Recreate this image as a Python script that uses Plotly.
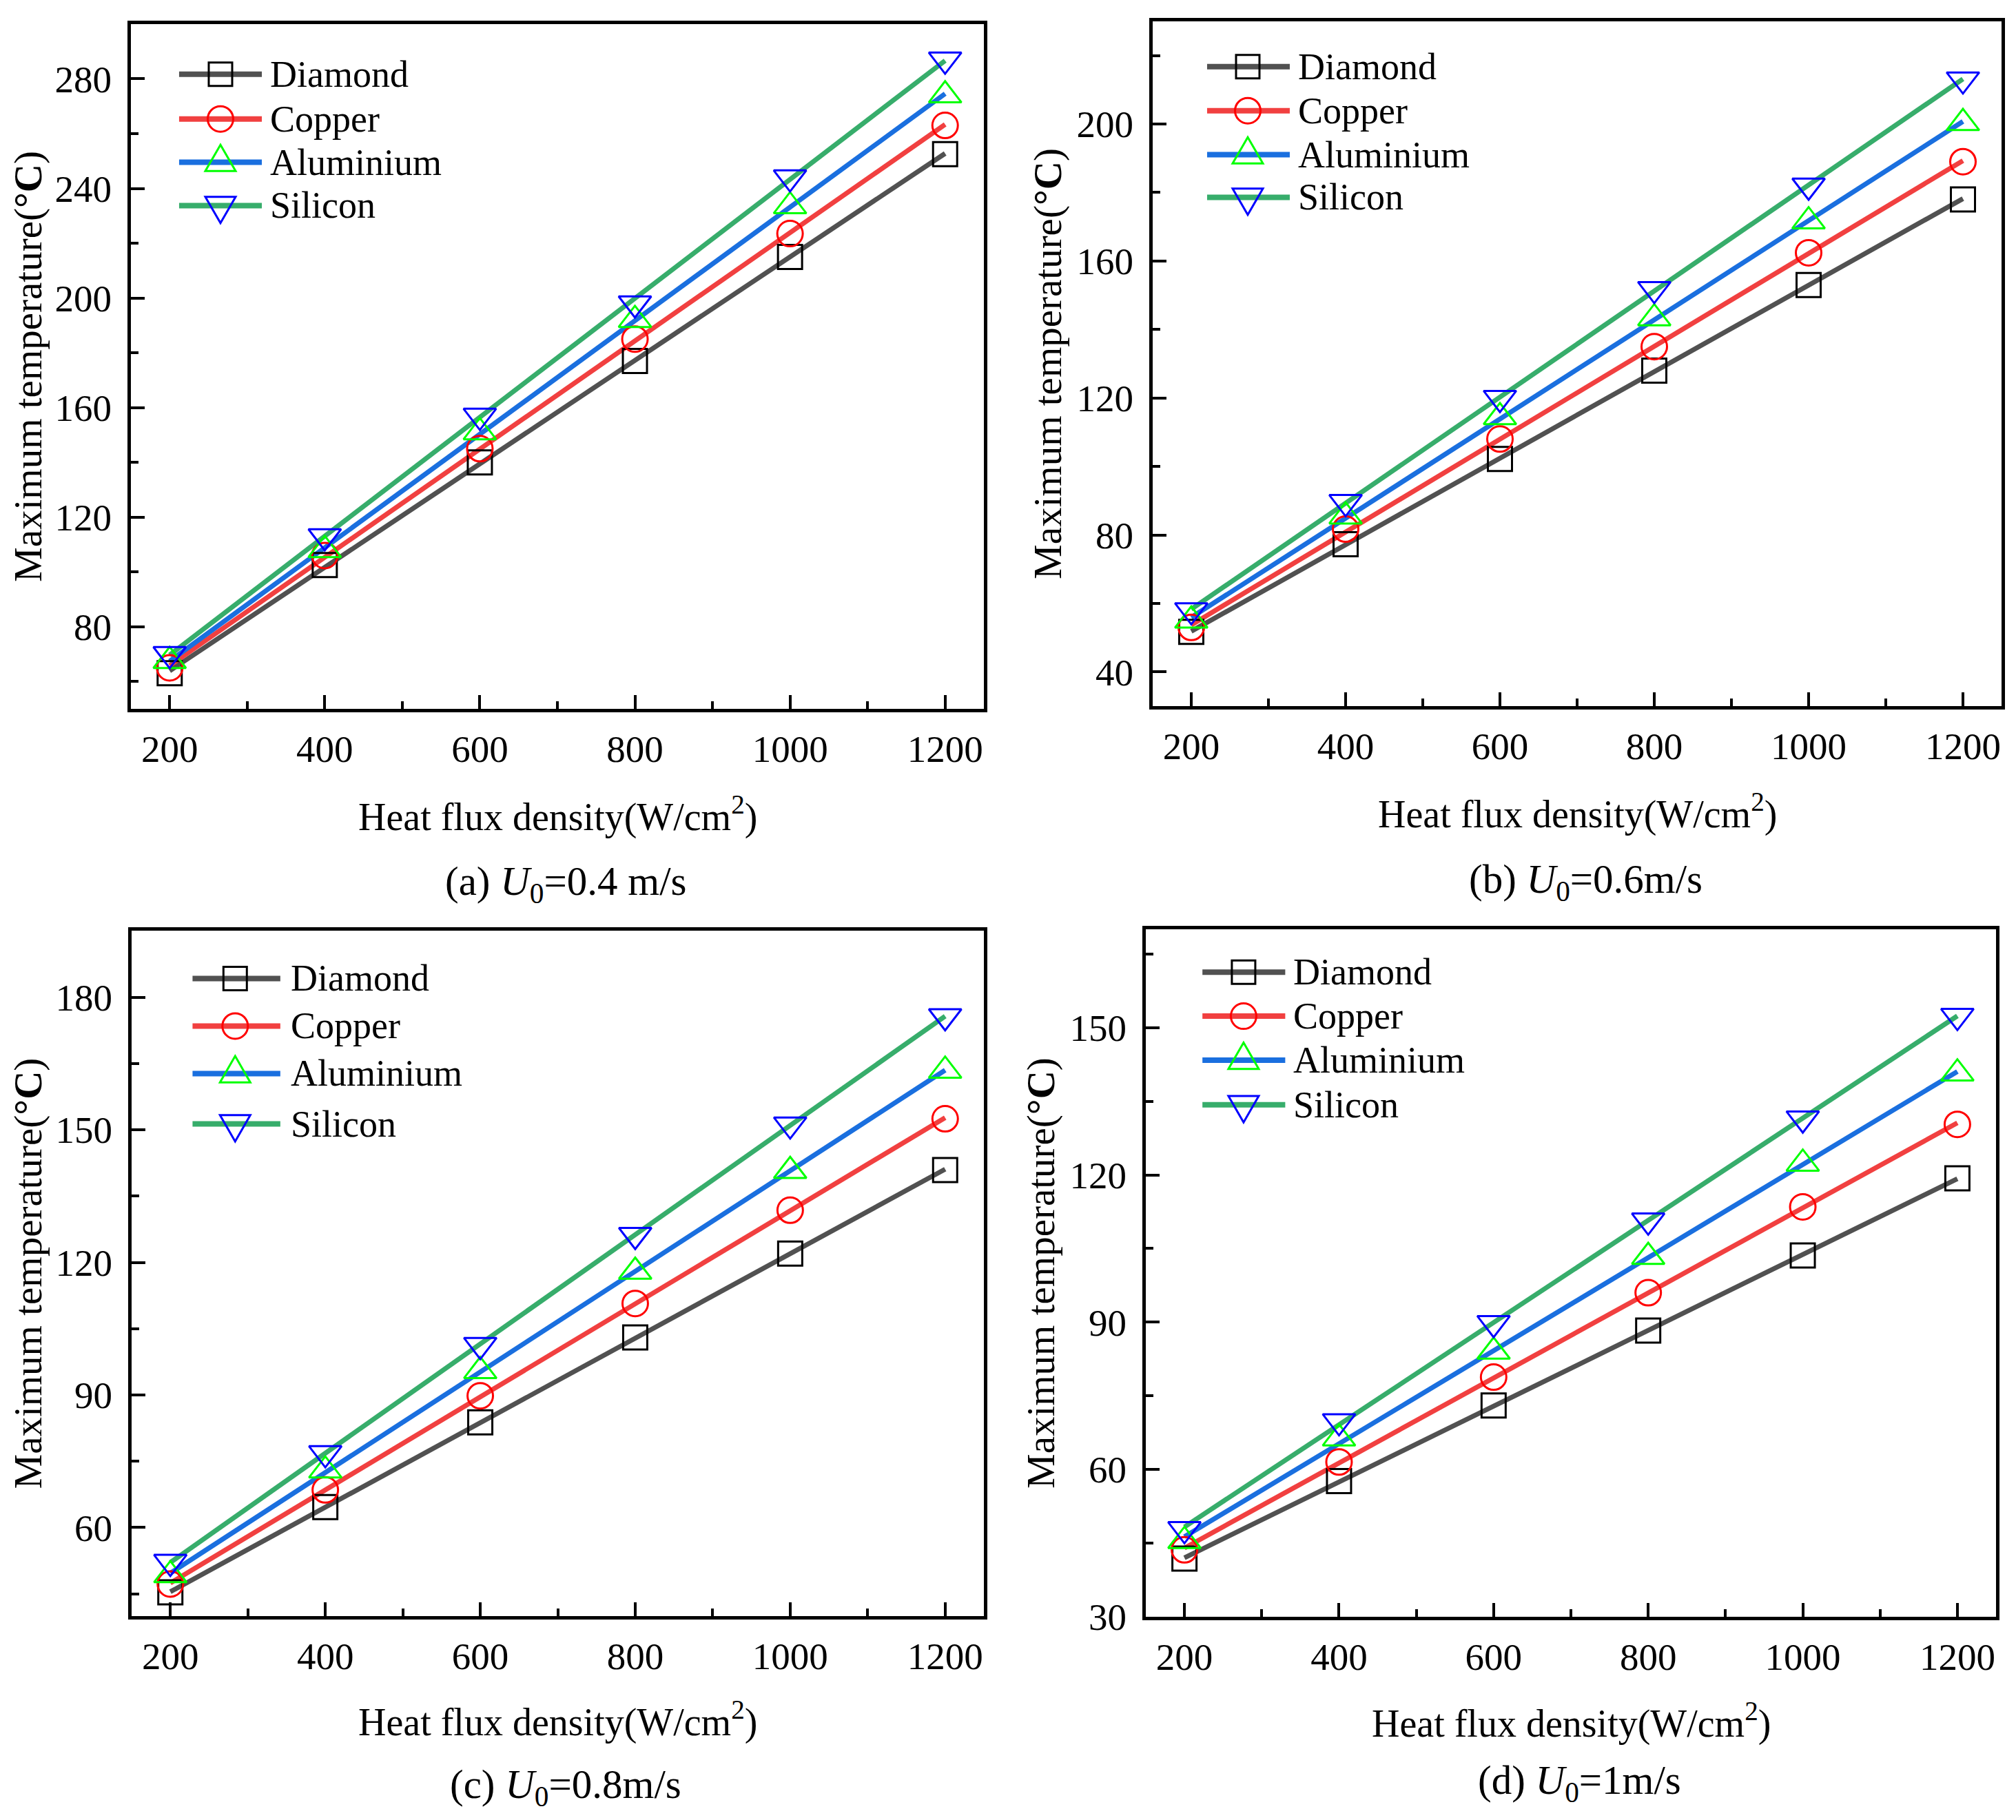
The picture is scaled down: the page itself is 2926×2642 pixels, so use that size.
import numpy as np
import plotly.graph_objects as go
from plotly.subplots import make_subplots

W, H = 2926, 2642
FONT = "Times New Roman, Liberation Serif, serif"

# data
heat_flux = [200, 400, 600, 800, 1000, 1200]
materials = ["Diamond", "Copper", "Aluminium", "Silicon"]

a_diamond = [63, 102.5, 140, 177, 215, 252.5]
a_copper = [65, 106, 145, 185, 223.5, 263]
a_aluminium = [67.5, 108, 151, 192, 233.5, 274]
a_silicon = [70, 113, 157, 198, 244, 287]

b_diamond = [51.7, 77.3, 102.2, 128, 153, 178]
b_copper = [53, 81.7, 108, 135, 162.4, 189]
b_aluminium = [55, 85.4, 114.4, 143.3, 171.6, 200.3]
b_silicon = [58, 89.6, 120, 151.8, 182, 213]

c_diamond = [45.3, 64.6, 83.8, 103, 122, 140.9]
c_copper = [47.2, 68.5, 89.8, 110.7, 131.8, 152.5]
c_aluminium = [49.2, 72.9, 95.4, 117.9, 140.7, 163.4]
c_silicon = [52.2, 76.8, 101.3, 126.2, 151.2, 175.7]

d_diamond = [41.8, 57.6, 73, 88.3, 103.6, 119.3]
d_copper = [43.6, 61.5, 78.8, 96, 113.5, 130.3]
d_aluminium = [45.4, 66.3, 84, 103.3, 122.3, 140.7]
d_silicon = [47.8, 69.8, 89.8, 110.7, 131.5, 152.4]

captions = [
    "(a) <i>U</i><sub>0</sub>=0.4 m/s",
    "(b) <i>U</i><sub>0</sub>=0.6m/s",
    "(c) <i>U</i><sub>0</sub>=0.8m/s",
    "(d) <i>U</i><sub>0</sub>=1m/s",
]

# styles
line_colors = ["#515151", "#F14040", "#1A6FDF", "#37AD6B"]
marker_colors = ["#000000", "#FF0000", "#00FF00", "#0000FF"]
symbols = ["square-open", "circle-open", "triangle-up-open", "triangle-down-open"]
marker_sizes = [35, 37, 41, 41]

# panel layout (pixel boxes: left, right, top, bottom)
panels = [
    dict(series=[a_diamond, a_copper, a_aluminium, a_silicon], yrange=[50, 300], dtick=40, minor=20,
         box=(190, 1428, 32, 1028), xt_y=1181, cap_y=1282, yt_x=41,
         leg_x=(0.0565, 0.1535, 0.105, 0.1616), leg_y=[0.9267, 0.8614, 0.7982, 0.7349]),
    dict(series=[b_diamond, b_copper, b_aluminium, b_silicon], yrange=[30, 230], dtick=40, minor=20,
         box=(1673, 2905, 28, 1024), xt_y=1177, cap_y=1279, yt_x=1521,
         leg_x=(0.0641, 0.1615, 0.112, 0.1696), leg_y=[0.9337, 0.8695, 0.8052, 0.7430]),
    dict(series=[c_diamond, c_copper, c_aluminium, c_silicon], yrange=[40, 195], dtick=30, minor=15,
         box=(191, 1428, 1351, 2347), xt_y=2498, cap_y=2596, yt_x=41,
         leg_x=(0.0715, 0.1745, 0.1215, 0.1848), leg_y=[0.9306, 0.8612, 0.7918, 0.7183]),
    dict(series=[d_diamond, d_copper, d_aluminium, d_silicon], yrange=[30, 170], dtick=30, minor=15,
         box=(1663, 2897, 1349, 2348), xt_y=2500, cap_y=2590, yt_x=1511,
         leg_x=(0.0666, 0.164, 0.115, 0.172), leg_y=[0.938, 0.874, 0.810, 0.745]),
]


def px(x):
    return x / W


def py(y):
    # small vertical correction, the page came out about 1% short
    return 1 - (y * 1.01 + 3) / H


# legend marker outlines in pixels (centred on the row)
def legend_marker(k, xa, ya, xref, yref, color):
    common = dict(xref=xref, yref=yref, xsizemode="pixel", ysizemode="pixel",
                  xanchor=xa, yanchor=ya, line=dict(color=color, width=3),
                  fillcolor="rgba(0,0,0,0)", layer="above")
    if k == 0:
        return dict(type="rect", x0=-17, x1=17, y0=-17, y1=17, **common)
    if k == 1:
        return dict(type="circle", x0=-18.5, x1=18.5, y0=-18.5, y1=18.5, **common)
    if k == 2:
        return dict(type="path", path="M-22,-12.7 L22,-12.7 L0,25.4 Z", **common)
    return dict(type="path", path="M-22,12.7 L22,12.7 L0,-25.4 Z", **common)


fig = make_subplots(rows=2, cols=2)

shapes = []
annotations = []
xfit = np.array([heat_flux[0], heat_flux[-1]])

for p, panel in enumerate(panels):
    row, col = p // 2 + 1, p % 2 + 1
    xr = "x" if p == 0 else f"x{p + 1}"
    yr = "y" if p == 0 else f"y{p + 1}"

    for k, vals in enumerate(panel["series"]):
        # linear fit line, as in the original figure
        coef = np.polyfit(heat_flux, vals, 1)
        fig.add_trace(go.Scatter(
            x=xfit, y=np.polyval(coef, xfit), mode="lines",
            line=dict(color=line_colors[k], width=7),
            showlegend=False, hoverinfo="skip"
        ), row=row, col=col)
    for k, vals in enumerate(panel["series"]):
        fig.add_trace(go.Scatter(
            x=heat_flux, y=vals, mode="markers", name=materials[k],
            marker=dict(symbol=symbols[k], size=marker_sizes[k], color=marker_colors[k],
                        line=dict(width=3, color=marker_colors[k])),
            showlegend=False
        ), row=row, col=col)

    l, r, t, b = panel["box"]
    fig.update_xaxes(domain=[px(l), px(r)], row=row, col=col)
    fig.update_yaxes(domain=[py(b), py(t)], row=row, col=col)
    fig.update_yaxes(range=panel["yrange"], dtick=panel["dtick"], tick0=0,
                     minor=dict(dtick=panel["minor"], ticks="inside", ticklen=11,
                                tickwidth=4, tickcolor="black"),
                     row=row, col=col)

    # legend
    x0, x1, xm, xt = panel["leg_x"]
    for k, name in enumerate(materials):
        yy = panel["leg_y"][k]
        shapes.append(dict(type="line", xref=f"{xr} domain", yref=f"{yr} domain",
                           x0=x0, x1=x1, y0=yy, y1=yy,
                           line=dict(color=line_colors[k], width=8)))
        shapes.append(legend_marker(k, xm, yy, f"{xr} domain", f"{yr} domain", marker_colors[k]))
        annotations.append(dict(text=name, xref=f"{xr} domain", yref=f"{yr} domain",
                                x=xt, y=yy, xanchor="left", yanchor="middle", showarrow=False,
                                font=dict(family=FONT, size=54, color="black")))

    # axis titles and captions
    cx = px((l + r) / 2)
    annotations.append(dict(text="Heat flux density(W/cm<sup>2</sup>)", xref="paper", yref="paper",
                            x=cx, y=py(panel["xt_y"]), xanchor="center", yanchor="middle",
                            showarrow=False, font=dict(family=FONT, size=56, color="black")))
    annotations.append(dict(text=captions[p], xref="paper", yref="paper",
                            x=cx + px(12), y=py(panel["cap_y"]), xanchor="center", yanchor="middle",
                            showarrow=False, font=dict(family=FONT, size=59, color="black")))
    annotations.append(dict(text="Maximum temperature(<b>°C</b>)", xref="paper", yref="paper",
                            x=px(panel["yt_x"]), y=py((t + b) / 2), xanchor="center", yanchor="middle",
                            textangle=-90, showarrow=False,
                            font=dict(family=FONT, size=57, color="black")))

axis_style = dict(
    showline=True, linewidth=5, linecolor="black", mirror=True,
    ticks="inside", ticklen=20, tickwidth=4, tickcolor="black",
    showgrid=False, zeroline=False,
    tickfont=dict(family=FONT, size=55, color="black"),
)
fig.update_xaxes(**axis_style, range=[150, 1250], tickvals=heat_flux, ticklabelstandoff=6,
                 minor=dict(dtick=100, ticks="inside", ticklen=11, tickwidth=4, tickcolor="black"))
fig.update_yaxes(**axis_style, ticklabelstandoff=12)

fig.update_layout(
    width=W, height=H,
    margin=dict(l=0, r=0, t=0, b=0),
    plot_bgcolor="white", paper_bgcolor="white",
    font=dict(family=FONT, color="black"),
    shapes=shapes, annotations=annotations,
    showlegend=False,
)

# drop the default page margin so the figure fills the window exactly
fig.write_html("out.html", config={"displayModeBar": False},
               post_script="document.body.style.margin = '0';")
